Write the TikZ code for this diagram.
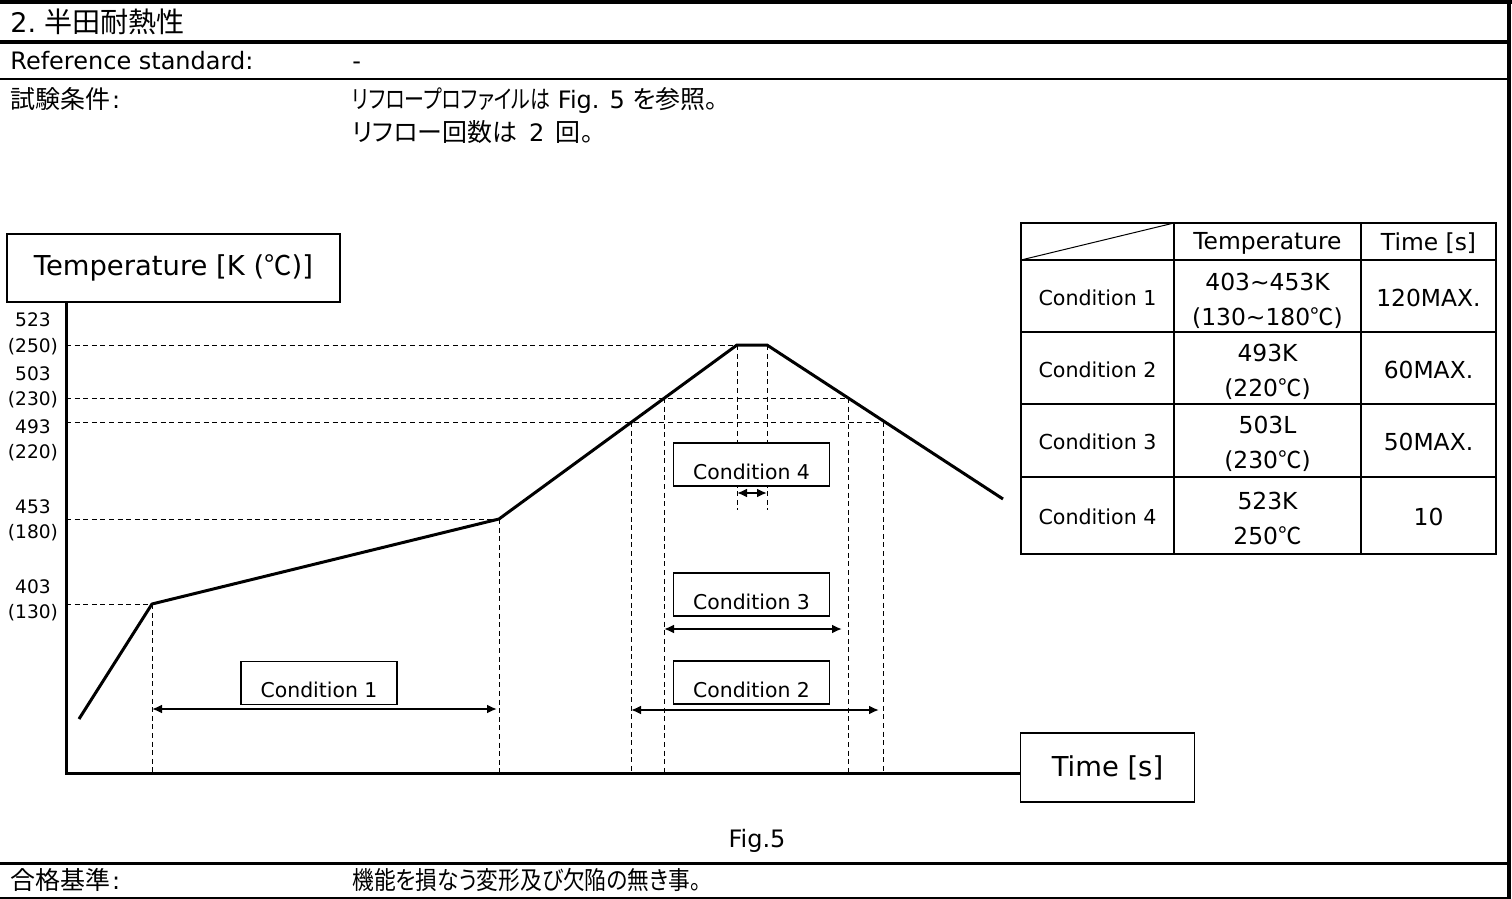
\documentclass[tikz,border=0pt]{standalone}
\usepackage{fontspec}
\setmainfont{DejaVu Sans}
\newfontfamily\jp[Scale=1.04,RawFeature=+palt]{Noto Sans CJK JP}
\newfontfamily\jpn[Scale=1.04,FakeStretch=0.8,RawFeature=+palt]{Noto Sans CJK JP}
\newfontfamily\jpm[Scale=1.04,FakeStretch=0.87,RawFeature=+palt]{Noto Sans CJK JP}
\newfontfamily\jpsym{Noto Sans CJK JP}
\usetikzlibrary{arrows.meta}
\newcommand\dC{{\jpsym ℃}}

\begin{document}
\begin{tikzpicture}[x=0.5pt,y=-0.5pt]
\tikzstyle{every node}=[inner sep=0pt]
\tikzstyle{head}=[anchor=base west,font=\fontsize{12}{14}\selectfont]
\tikzstyle{axisbox}=[draw,line width=0.8pt,fill=white,font=\fontsize{13.7}{16}\selectfont]
\tikzstyle{tick}=[font=\fontsize{9.3}{11}\selectfont]
\tikzstyle{cond}=[draw,line width=0.8pt,fill=white,minimum width=78pt,text height=18.2pt,text depth=3.3pt,font=\fontsize{10.2}{12}\selectfont]
\tikzstyle{rowhead}=[font=\fontsize{10.3}{12}\selectfont]
\tikzstyle{cell}=[align=center,font=\fontsize{11.7}{17.5}\selectfont]
\tikzstyle{guide}=[dash pattern=on 2.5pt off 1.8pt,line width=0.5pt]
\tikzstyle{profile}=[line width=1.5pt,line join=round]
\tikzstyle{span}=[line width=1pt,<->,>={Latex[length=5pt,width=4.5pt]}]
\tikzstyle{grid}=[line width=1pt]

\useasboundingbox (0,0) rectangle (1512,899);

\draw[line width=2pt] (0,2) -- (1512,2);
\draw[line width=2pt] (0,42) -- (1509,42);
\draw[line width=1pt] (0,79) -- (1509,79);
\draw[line width=1.5pt] (0,863) -- (1509,863);
\draw[line width=1pt] (0,898) -- (1509,898);
\draw[line width=2pt] (1509,0) -- (1509,899);

\node[head,font=\fontsize{13.5}{16}\selectfont] (title) at (10,33) {2.\hspace{4pt}{\jp 半田耐熱性}};
\node[head] (refstd) at (10,70) {Reference standard:};
\node[head] (refval) at (352,70) {-};
\node[head] (test) at (10,109) {{\jp 試験条件}\hspace{1pt}:};
\node[head] (testa) at (352,109) {{\jpn リフロープロファイルは} Fig. 5 {\jp を参照。}};
\node[head] (testb) at (352,142) {{\jp リフロー回数は}\hspace{2pt} 2\hspace{2pt} {\jp 回。}};
\node[head] (pass) at (10,889) {{\jp 合格基準}\hspace{1pt}:};
\node[head] (passval) at (352,889) {{\jpm 機能を損なう変形及び欠陥の無き事。}};
\node[font=\fontsize{12}{14}\selectfont] (fig) at (757,841) {Fig.5};

\node[axisbox,minimum width=166.5pt,minimum height=34pt] (tlabel) at (173.5,268) {Temperature [K (\dC)]};
\node[axisbox,minimum width=87pt,minimum height=34.5pt] (xlabel) at (1107.5,767.5) {Time [s]};

\node[tick] (k523) at (33,320) {523};
\node[tick] (c250) at (33,347) {(250)};
\node[tick] (k503) at (33,374) {503};
\node[tick] (c230) at (33,400) {(230)};
\node[tick] (k493) at (33,427) {493};
\node[tick] (c220) at (33,453) {(220)};
\node[tick] (k453) at (33,507) {453};
\node[tick] (c180) at (33,533) {(180)};
\node[tick] (k403) at (33,587) {403};
\node[tick] (c130) at (33,613) {(130)};

\coordinate (o) at (66,773);
\coordinate (p0) at (79,719);
\coordinate (p1) at (152,604);
\coordinate (p2) at (499,519);
\coordinate (p3) at (737,345);
\coordinate (p4) at (767,345);
\coordinate (p5) at (1003,499);
\coordinate (a1) at (631,422);
\coordinate (a2) at (664,398);
\coordinate (b2) at (848,398);
\coordinate (b1) at (883,422);
\coordinate (q3) at (737,510);
\coordinate (q4) at (767,510);

\draw[guide] (o |- p3) -- (p3);
\draw[guide] (o |- a2) -- (b2);
\draw[guide] (o |- a1) -- (b1);
\draw[guide] (o |- p2) -- (p2);
\draw[guide] (o |- p1) -- (p1);
\draw[guide] (p1) -- (p1 |- o);
\draw[guide] (p2) -- (p2 |- o);
\draw[guide] (a1) -- (a1 |- o);
\draw[guide] (a2) -- (a2 |- o);
\draw[guide] (b2) -- (b2 |- o);
\draw[guide] (b1) -- (b1 |- o);
\draw[guide] (p3) -- (q3);
\draw[guide] (p4) -- (q4);

\draw[line width=1.5pt] (tlabel.south -| o) -- (o) -- (o -| xlabel.west);
\draw[profile] (p0) -- (p1) -- (p2) -- (p3) -- (p4) -- (p5);

\node[cond] (cond1) at (319,683) {Condition 1};
\node[cond] (cond2) at (751.5,682.5) {Condition 2};
\node[cond] (cond3) at (751.5,594.5) {Condition 3};
\node[cond] (cond4) at (751.5,464.5) {Condition 4};

\coordinate (s1a) at (152,709);
\coordinate (s1b) at (497,709);
\coordinate (s2a) at (631,710);
\coordinate (s2b) at (879,710);
\coordinate (s3a) at (664,629);
\coordinate (s3b) at (842,629);
\coordinate (s4a) at (737,493);
\coordinate (s4b) at (767,493);
\draw[span] (s1a) -- (s1b);
\draw[span] (s2a) -- (s2b);
\draw[span] (s3a) -- (s3b);
\draw[span] (s4a) -- (s4b);

\draw[grid] (1021,223) rectangle (1496,554);
\draw[grid] (1174,223) -- (1174,554) (1361,223) -- (1361,554);
\draw[grid] (1021,260) -- (1496,260) (1021,332) -- (1496,332) (1021,404) -- (1496,404) (1021,477) -- (1496,477);
\draw[line width=0.5pt] (1021,260) -- (1174,223);

\node[cell] (htemp) at (1267.5,243) {Temperature};
\node[cell] (htime) at (1428.5,243) {Time [s]};
\node[rowhead] (r1) at (1097.5,298) {Condition 1};
\node[cell] (r1t) at (1267.5,301) {403\textasciitilde453K\\(130\textasciitilde180\dC)};
\node[cell] (r1s) at (1428.5,298) {120MAX.};
\node[rowhead] (r2) at (1097.5,370) {Condition 2};
\node[cell] (r2t) at (1267.5,372) {493K\\(220\dC)};
\node[cell] (r2s) at (1428.5,370) {60MAX.};
\node[rowhead] (r3) at (1097.5,442) {Condition 3};
\node[cell] (r3t) at (1267.5,444) {503L\\(230\dC)};
\node[cell] (r3s) at (1428.5,442) {50MAX.};
\node[rowhead] (r4) at (1097.5,517) {Condition 4};
\node[cell] (r4t) at (1267.5,518) {523K\\250\dC};
\node[cell] (r4s) at (1428.5,517) {10};
\end{tikzpicture}
\end{document}
